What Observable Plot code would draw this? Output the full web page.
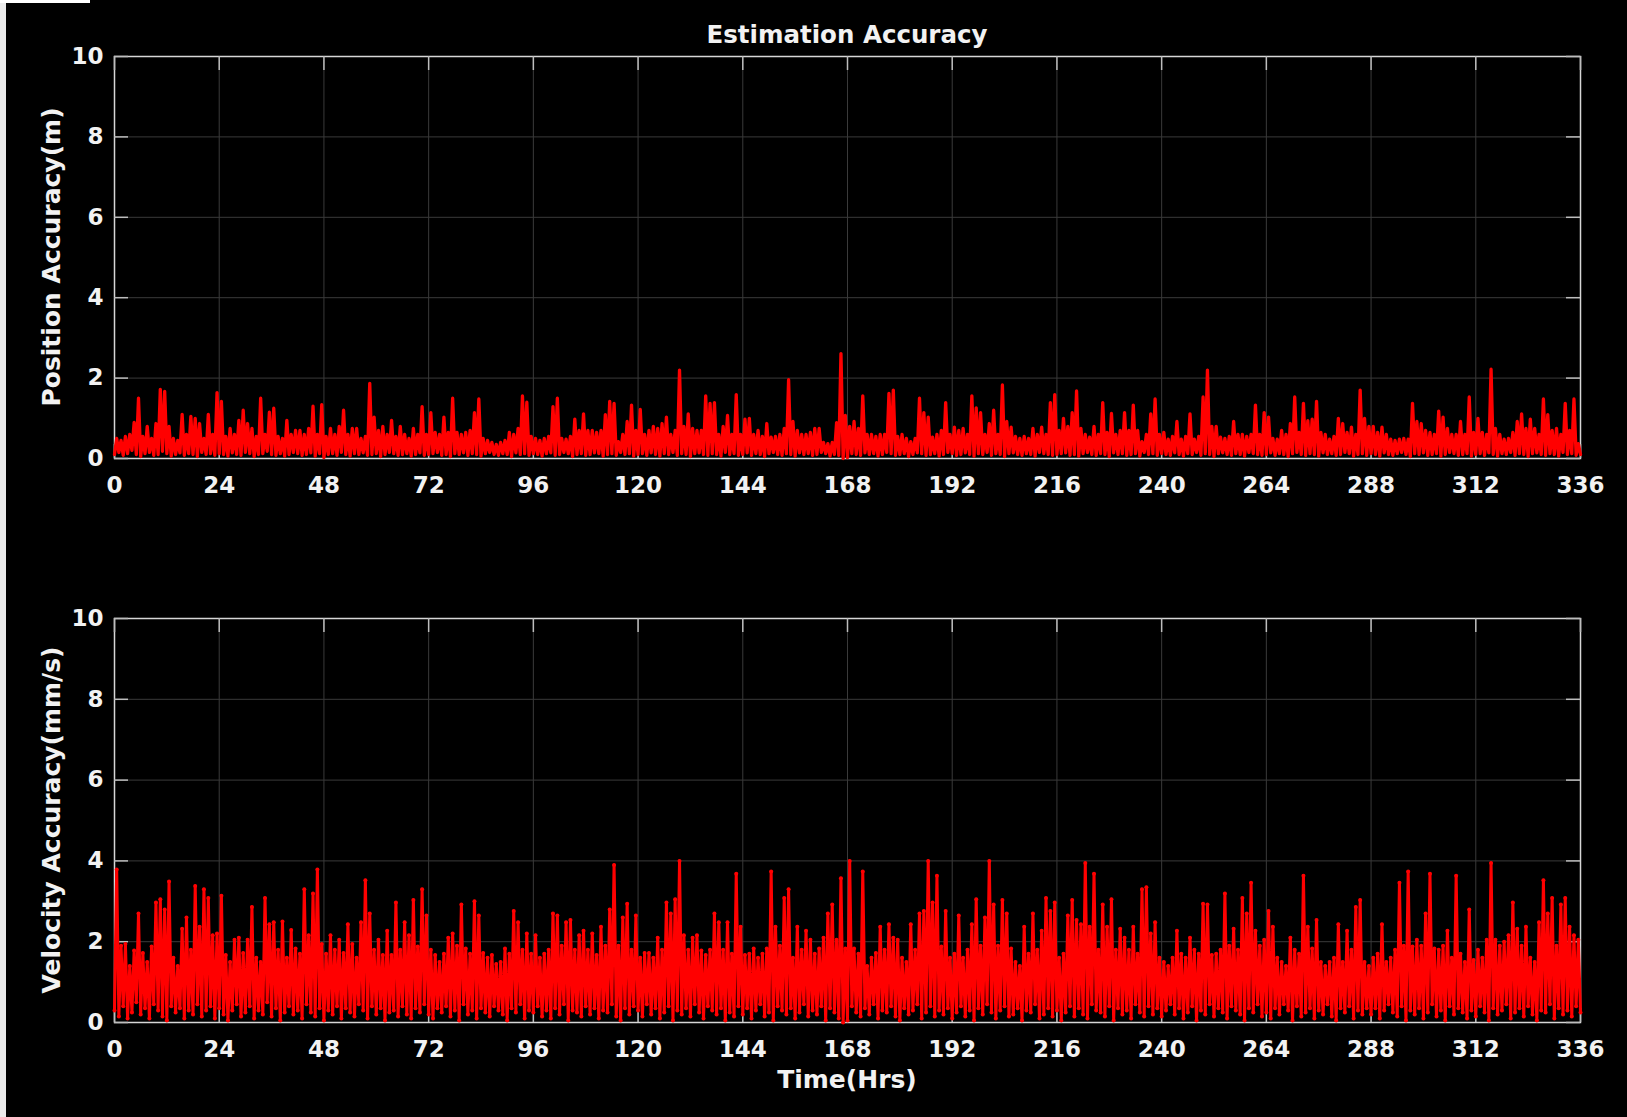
<!DOCTYPE html>
<html>
<head>
<meta charset="utf-8">
<script src="https://cdn.jsdelivr.net/npm/d3@7"></script>
<script src="https://cdn.jsdelivr.net/npm/@observablehq/plot@0.6"></script>
<style>
html,body{margin:0;padding:0;background:#000;}
#fig{position:relative;width:1627px;height:1117px;background:#000;overflow:hidden;font-family:"DejaVu Sans",sans-serif;color:#f2f2f2;}
.abs{position:absolute;}
.lbl{font-weight:bold;line-height:30px;height:30px;text-align:center;white-space:nowrap;}
.ylbl{width:500px;font-size:25px;transform:rotate(-90deg);transform-origin:250px 15px;}
</style>
</head>
<body>
<div id="fig">
  <div id="top" class="abs" style="left:0;top:0;"></div>
  <div id="bottom" class="abs" style="left:0;top:540px;"></div>
  <div id="title" class="abs lbl" style="left:547px;top:20px;width:600px;font-size:24.5px;"></div>
  <div id="xlabel" class="abs lbl" style="left:547px;top:1065px;width:600px;font-size:25px;"></div>
  <div id="ylab1" class="abs lbl ylbl" style="left:-198px;top:242px;"></div>
  <div id="ylab2" class="abs lbl ylbl" style="left:-198px;top:805px;"></div>
  <div class="abs" style="left:0;top:0;width:6px;height:1117px;background:#ebebeb;"></div>
  <div class="abs" style="left:0;top:0;width:90px;height:3px;background:#ffffff;"></div>
</div>
<script>
const titleText = "Estimation Accuracy";
const xLabel = "Time(Hrs)";
const posLabel = "Position Accuracy(m)";
const velLabel = "Velocity Accuracy(mm/s)";
const xTicks = [0, 24, 48, 72, 96, 120, 144, 168, 192, 216, 240, 264, 288, 312, 336];
const yTicks = [0, 2, 4, 6, 8, 10];

// hourly maxima of position accuracy (m), hours 0..335
const posPeak = [
0.5,0.45,0.55,0.6,0.9,1.5,0.55,0.8,0.5,0.87,1.72,1.67,
0.8,0.5,0.45,1.1,0.6,1.05,1.0,0.87,0.5,1.1,0.6,1.64,
1.42,0.55,0.75,0.6,0.95,1.2,0.87,0.75,0.55,1.5,0.6,1.15,
1.25,0.55,0.5,0.95,0.6,0.7,0.7,0.6,0.75,1.3,0.6,1.34,
0.55,0.75,0.6,0.8,1.2,0.6,0.75,0.75,0.5,0.55,1.87,1.03,
0.7,0.8,0.6,0.95,0.55,0.8,0.6,0.5,0.75,0.6,1.29,0.6,
1.14,0.65,0.6,1.03,0.65,1.5,0.65,0.6,0.65,0.7,1.14,1.48,
0.5,0.45,0.4,0.35,0.4,0.45,0.65,0.6,0.75,1.56,1.4,0.55,
0.5,0.45,0.5,0.55,1.29,1.5,0.5,0.48,0.55,0.98,0.7,1.11,
0.7,0.7,0.65,0.7,1.09,1.42,1.37,0.42,0.6,0.92,1.33,0.7,
1.22,0.6,0.7,0.8,0.75,0.87,1.03,0.6,0.7,2.2,0.8,1.11,
0.75,0.7,0.7,1.56,1.37,1.39,0.6,0.8,1.07,0.6,1.59,0.6,
0.98,1.0,0.6,0.7,0.55,0.87,0.53,0.55,0.6,0.75,1.96,0.92,
0.7,0.6,0.6,0.65,0.75,0.75,0.4,0.37,0.4,0.89,2.61,1.07,
0.8,0.92,0.75,1.56,0.6,0.6,0.55,0.6,0.6,1.62,1.7,0.55,
0.6,0.5,0.42,0.5,1.5,1.14,1.03,0.53,0.6,0.7,1.39,0.6,
0.78,0.7,0.75,0.6,1.56,1.26,1.14,0.6,0.87,1.2,0.6,1.83,
0.92,0.78,0.55,0.5,0.55,0.5,0.75,0.6,0.78,0.6,1.39,1.59,
0.7,1.0,0.8,1.14,1.68,0.75,0.6,0.53,0.8,0.6,1.39,0.65,
1.12,0.6,0.7,1.14,0.7,1.33,0.7,0.42,0.6,1.11,1.48,0.6,
0.65,0.48,0.55,0.92,0.48,0.55,1.11,0.48,0.55,1.53,2.2,0.8,
0.8,0.53,0.5,0.55,0.92,0.6,0.6,0.55,0.6,1.33,0.6,1.14,
1.03,0.5,0.48,0.7,0.6,0.87,1.53,0.65,1.37,0.94,0.98,1.42,
0.65,0.6,0.48,0.55,1.0,0.87,0.65,0.78,0.6,1.7,1.0,0.8,
0.8,0.65,0.78,0.6,0.48,0.45,0.48,0.5,0.48,1.37,0.92,0.87,
0.7,0.65,0.6,1.18,1.03,0.75,0.6,0.6,0.92,0.6,1.53,0.65,
1.0,0.65,0.6,2.22,0.75,0.6,0.48,0.5,0.65,0.92,1.11,0.75,
0.98,0.75,0.6,1.48,1.09,0.7,0.75,0.6,1.37,0.7,1.48,0.37
];

// hourly minima of position accuracy (m), hours 0..336
const posLow = [
0.1,0.15,0.08,0.12,0.2,0.1,0.05,0.12,0.15,0.08,0.1,0.18,0.12,0.06,0.1,0.14,0.08,0.12,0.1,0.05,0.15,0.1,0.12,0.08,
0.12,0.1,0.06,0.14,0.1,0.08,0.15,0.12,0.05,0.1,0.12,0.18,0.1,0.08,0.12,0.06,0.1,0.15,0.12,0.08,0.1,0.14,0.06,0.12,
0.02,0.1,0.12,0.08,0.15,0.1,0.06,0.12,0.1,0.14,0.08,0.1,0.12,0.05,0.1,0.15,0.12,0.08,0.1,0.12,0.06,0.1,0.14,0.08,
0.1,0.12,0.15,0.08,0.1,0.05,0.12,0.1,0.14,0.08,0.12,0.1,0.06,0.12,0.15,0.1,0.08,0.12,0.1,0.05,0.14,0.1,0.12,0.08,
0.12,0.1,0.06,0.12,0.14,0.08,0.1,0.15,0.12,0.05,0.1,0.12,0.08,0.1,0.14,0.12,0.06,0.1,0.12,0.08,0.15,0.1,0.12,0.06,
0.1,0.12,0.08,0.14,0.1,0.06,0.12,0.1,0.15,0.08,0.12,0.1,0.05,0.12,0.14,0.1,0.08,0.12,0.1,0.06,0.15,0.1,0.12,0.08,
0.1,0.14,0.08,0.12,0.1,0.05,0.12,0.15,0.1,0.08,0.12,0.1,0.06,0.14,0.1,0.12,0.08,0.1,0.15,0.12,0.06,0.1,0.08,0.0,
0.02,0.12,0.1,0.08,0.14,0.1,0.12,0.06,0.1,0.15,0.12,0.08,0.1,0.12,0.05,0.1,0.14,0.12,0.08,0.1,0.12,0.06,0.1,0.15,
0.12,0.08,0.1,0.14,0.1,0.06,0.12,0.1,0.15,0.08,0.12,0.1,0.05,0.12,0.14,0.1,0.08,0.12,0.1,0.06,0.15,0.12,0.1,0.08,
0.1,0.12,0.14,0.08,0.1,0.06,0.12,0.15,0.1,0.08,0.12,0.1,0.05,0.14,0.1,0.12,0.08,0.1,0.12,0.06,0.15,0.1,0.12,0.08,
0.12,0.1,0.08,0.14,0.1,0.06,0.12,0.1,0.15,0.08,0.12,0.1,0.05,0.12,0.14,0.1,0.08,0.12,0.1,0.06,0.15,0.12,0.1,0.08,
0.1,0.14,0.08,0.12,0.1,0.05,0.12,0.15,0.1,0.08,0.12,0.1,0.06,0.14,0.1,0.12,0.08,0.1,0.15,0.12,0.06,0.1,0.12,0.08,
0.12,0.1,0.06,0.14,0.1,0.08,0.12,0.15,0.1,0.05,0.12,0.1,0.14,0.08,0.1,0.12,0.06,0.1,0.15,0.12,0.08,0.1,0.12,0.06,
0.1,0.12,0.08,0.14,0.1,0.06,0.12,0.1,0.15,0.08,0.12,0.1,0.05,0.12,0.14,0.1,0.08,0.12,0.1,0.06,0.15,0.1,0.12,0.08,0.1
];

// hourly maxima of velocity accuracy (mm/s), hours 0..335
const velPeak = [
3.79,1.9,1.94,1.4,1.78,2.7,1.72,1.5,1.88,2.97,3.05,2.8,
3.49,1.6,1.4,2.32,2.6,1.8,3.38,2.37,3.3,3.08,2.16,2.2,
3.14,1.67,1.5,2.05,2.1,1.72,2.05,2.86,1.6,1.5,3.08,2.43,
2.48,1.8,2.5,1.6,2.29,1.83,1.7,3.3,2.16,3.19,3.79,1.94,
1.7,2.16,1.8,2.05,1.72,2.43,1.94,1.6,2.48,3.52,2.7,1.8,
2.05,1.67,2.27,1.67,2.97,1.8,2.48,2.16,3.03,1.88,3.3,2.65,
1.8,1.67,1.5,1.7,2.1,2.2,1.9,2.92,1.83,1.7,3.0,2.65,
1.72,1.6,1.67,1.45,1.5,1.83,1.7,2.76,2.48,1.8,2.2,1.7,
2.16,1.6,1.7,1.8,2.7,2.65,1.9,2.48,2.54,1.8,2.16,2.27,
1.8,2.2,1.67,2.37,1.9,2.8,3.9,1.9,2.6,2.94,1.8,2.65,
1.6,1.72,1.72,1.6,2.1,1.8,2.97,2.7,3.05,4.0,2.16,1.8,
2.1,2.16,1.78,1.67,1.8,2.7,2.48,1.8,2.48,1.7,3.68,2.37,
1.67,1.7,1.83,1.6,1.7,1.83,3.74,2.37,1.9,3.08,3.3,1.6,
2.37,1.8,2.27,2.05,1.7,1.83,2.1,2.7,2.92,2.05,3.57,1.83,
4.0,1.83,1.7,3.74,1.4,1.6,1.72,2.37,1.8,2.43,2.1,2.05,
1.6,1.5,2.43,1.8,2.7,2.76,4.0,2.97,3.63,1.88,2.76,1.6,
1.7,2.65,1.6,1.8,2.43,3.05,1.9,2.6,4.0,2.92,1.9,3.03,
2.7,1.83,1.5,1.4,2.37,1.7,2.7,1.8,2.27,3.08,2.76,2.97,
1.6,1.7,2.65,3.03,2.54,2.43,3.95,2.37,3.68,1.8,2.92,2.37,
3.05,1.8,2.32,2.1,1.8,2.37,1.7,3.3,3.35,2.2,2.48,1.6,
1.5,1.4,1.6,2.27,1.7,1.6,2.1,1.8,1.7,2.94,2.92,1.67,
1.7,1.8,3.19,1.9,2.32,1.8,3.08,2.7,3.46,2.27,1.9,2.05,
2.76,2.37,1.6,1.5,1.4,2.1,1.8,1.7,3.63,2.37,1.83,2.54,
1.5,1.4,1.5,1.6,2.43,1.5,2.27,1.8,2.86,3.03,1.5,1.4,
1.6,1.7,2.43,1.5,1.6,1.8,3.46,1.9,3.74,1.88,2.05,1.9,
2.7,3.68,1.83,1.8,1.9,2.27,1.6,3.63,1.7,1.5,2.8,1.55,
1.8,1.6,2.05,3.95,2.05,1.9,2.0,2.16,2.97,2.32,1.9,2.37,
1.6,1.5,2.48,3.52,2.7,3.08,1.9,2.92,3.08,2.37,2.16,2.05
];

// hourly minima of velocity accuracy (mm/s), hours 0..336
const velLow = [
0.3,0.15,0.4,0.1,0.25,0.5,0.2,0.35,0.1,0.45,0.3,0.15,0.05,0.4,0.25,0.35,0.1,0.3,0.2,0.45,0.15,0.3,0.4,0.1,
0.35,0.2,0.05,0.3,0.45,0.15,0.25,0.4,0.1,0.3,0.2,0.5,0.15,0.35,0.05,0.25,0.4,0.2,0.3,0.1,0.45,0.25,0.15,0.35,
0.05,0.3,0.2,0.4,0.1,0.35,0.25,0.15,0.45,0.3,0.1,0.4,0.2,0.35,0.05,0.25,0.3,0.15,0.4,0.2,0.1,0.35,0.25,0.45,
0.2,0.1,0.35,0.25,0.4,0.15,0.3,0.05,0.45,0.2,0.3,0.1,0.35,0.25,0.15,0.4,0.3,0.2,0.05,0.35,0.25,0.45,0.1,0.3,
0.25,0.4,0.15,0.3,0.1,0.35,0.2,0.45,0.05,0.3,0.25,0.15,0.4,0.2,0.35,0.1,0.3,0.25,0.45,0.15,0.05,0.35,0.2,0.4,
0.3,0.15,0.45,0.2,0.35,0.1,0.25,0.4,0.05,0.3,0.2,0.35,0.15,0.45,0.25,0.1,0.4,0.3,0.2,0.35,0.05,0.25,0.15,0.4,
0.2,0.35,0.1,0.3,0.45,0.15,0.25,0.05,0.4,0.3,0.2,0.35,0.1,0.25,0.45,0.15,0.3,0.2,0.4,0.05,0.35,0.25,0.1,0.0,
0.05,0.4,0.25,0.15,0.35,0.2,0.45,0.1,0.3,0.25,0.4,0.15,0.05,0.35,0.2,0.3,0.45,0.1,0.25,0.4,0.15,0.3,0.2,0.35,
0.1,0.25,0.4,0.15,0.3,0.05,0.35,0.2,0.45,0.25,0.1,0.3,0.4,0.15,0.2,0.35,0.05,0.3,0.25,0.45,0.1,0.2,0.35,0.15,
0.3,0.05,0.25,0.4,0.15,0.35,0.2,0.1,0.45,0.3,0.25,0.15,0.4,0.05,0.35,0.2,0.3,0.1,0.45,0.25,0.15,0.4,0.2,0.35,
0.15,0.3,0.45,0.2,0.35,0.1,0.25,0.4,0.05,0.3,0.2,0.45,0.15,0.35,0.25,0.1,0.4,0.3,0.2,0.05,0.35,0.25,0.45,0.15,
0.25,0.1,0.35,0.2,0.45,0.3,0.05,0.4,0.15,0.25,0.35,0.1,0.3,0.2,0.45,0.15,0.05,0.35,0.25,0.4,0.1,0.3,0.2,0.35,
0.2,0.35,0.1,0.3,0.45,0.25,0.15,0.4,0.05,0.3,0.2,0.35,0.1,0.25,0.45,0.15,0.3,0.05,0.4,0.2,0.35,0.25,0.1,0.3,
0.15,0.4,0.25,0.05,0.35,0.2,0.3,0.45,0.1,0.25,0.35,0.15,0.4,0.2,0.05,0.3,0.25,0.45,0.1,0.35,0.2,0.3,0.15,0.4,0.25
];

// interleave hourly minima and maxima into one time series
function series(low, peak) {
  const out = [];
  for (let i = 0; i < peak.length; i++) {
    out.push({t: i, v: low[i]});
    out.push({t: i + 0.5, v: peak[i]});
  }
  out.push({t: peak.length, v: low[peak.length]});
  return out;
}
const posSeries = series(posLow, posPeak);
const velSeries = series(velLow, velPeak);

const W = 1627, ML = 114, MR = 47;
const innerW = W - ML - MR;

function panel(data, mt, innerH, mb, dots) {
  const marks = [
    Plot.gridX(xTicks, {stroke: "#3a3a3a", strokeOpacity: 1, strokeWidth: 1}),
    Plot.gridY(yTicks, {stroke: "#3a3a3a", strokeOpacity: 1, strokeWidth: 1}),
    Plot.frame({stroke: "#d6d6d6", strokeWidth: 1.5}),
    Plot.tickX(xTicks, {x: d => d, insetTop: innerH - 14, stroke: "#bdbdbd", strokeWidth: 1.5}),
    Plot.tickX(xTicks, {x: d => d, insetBottom: innerH - 14, stroke: "#bdbdbd", strokeWidth: 1.5}),
    Plot.tickY(yTicks, {y: d => d, insetRight: innerW - 14, stroke: "#bdbdbd", strokeWidth: 1.5}),
    Plot.tickY(yTicks, {y: d => d, insetLeft: innerW - 14, stroke: "#bdbdbd", strokeWidth: 1.5}),
    Plot.line(data, {x: "t", y: "v", stroke: "#ff0000", strokeWidth: dots ? 3 : 3.3, strokeLinejoin: "round"})
  ];
  if (dots) marks.push(Plot.dot(data, {x: "t", y: "v", r: 2, fill: "#ff0000", stroke: "none"}));
  marks.push(
    Plot.axisX(xTicks, {tickSize: 0, tickPadding: 18, tickFormat: d => String(d)}),
    Plot.axisY(yTicks, {tickSize: 0, tickPadding: 11, tickFormat: d => String(d)})
  );
  return Plot.plot({
    width: W,
    height: mt + innerH + mb,
    marginLeft: ML, marginRight: MR, marginTop: mt, marginBottom: mb,
    style: {background: "#000", color: "#f2f2f2", fontFamily: "DejaVu Sans", fontSize: "23px", fontWeight: "bold", overflow: "visible"},
    x: {domain: [0, 336], label: null},
    y: {domain: [0, 10], label: null},
    marks
  });
}

document.getElementById("top").appendChild(panel(posSeries, 56, 402, 42, false));
document.getElementById("bottom").appendChild(panel(velSeries, 78, 404, 95, true));
document.getElementById("title").textContent = titleText;
document.getElementById("xlabel").textContent = xLabel;
document.getElementById("ylab1").textContent = posLabel;
document.getElementById("ylab2").textContent = velLabel;
</script>
</body>
</html>
